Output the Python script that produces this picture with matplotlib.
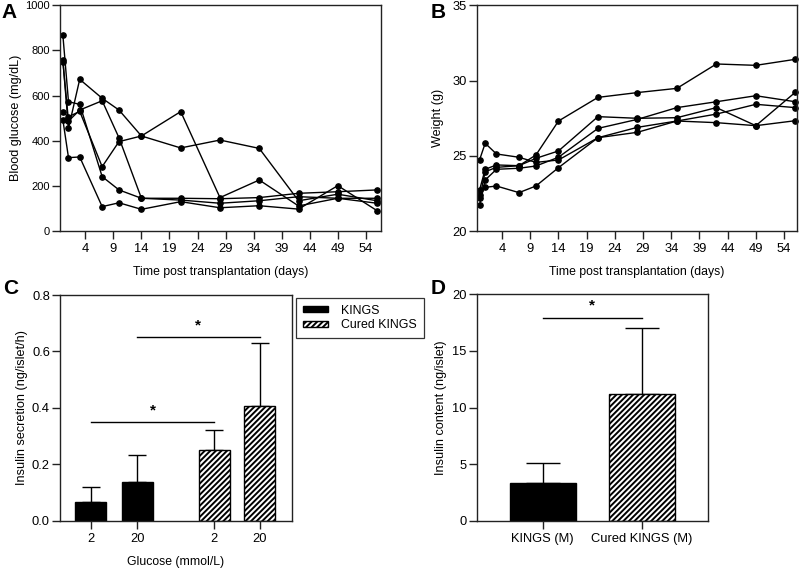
import matplotlib
matplotlib.use("Agg")
import matplotlib.pyplot as plt
from matplotlib.patches import Patch
import numpy as np

plt.rcParams['font.family'] = ['Liberation Sans', 'DejaVu Sans']
plt.rcParams['hatch.linewidth'] = 1.4

# ---------------- data ----------------
days = [0, 1, 3, 7, 10, 14, 21, 28, 35, 42, 49, 56]

glucose_m1 = [867, 573, 561, 241, 182, 145, 145, 143, 148, 167, 174, 182]
glucose_m2 = [757, 455, 672, 588, 536, 421, 368, 403, 366, 134, 163, 134]
glucose_m3 = [750, 487, 536, 577, 413, 145, 137, 123, 134, 152, 145, 145]
glucose_m4 = [526, 506, 530, 285, 396, 421, 529, 148, 226, 111, 145, 123]
glucose_m5 = [492, 325, 328, 108, 125, 96, 130, 103, 112, 97, 201, 90]

weight_m1 = [24.72, 25.83, 25.12, 24.90, 24.56, 24.72, 26.20, 26.56, 27.31, 27.20, 27.00, 27.33]
weight_m2 = [22.72, 24.10, 24.39, 24.34, 25.05, 27.31, 28.88, 29.20, 29.48, 31.10, 31.01, 31.41]
weight_m3 = [22.17, 23.94, 24.23, 24.34, 24.83, 25.32, 27.60, 27.49, 27.53, 28.20, 27.00, 29.22]
weight_m4 = [21.73, 23.39, 24.10, 24.17, 24.32, 24.90, 26.82, 27.42, 28.20, 28.59, 28.99, 28.59]
weight_m5 = [22.39, 22.90, 22.99, 22.55, 22.99, 24.21, 26.20, 26.89, 27.31, 27.77, 28.42, 28.20]

day_ticks = [4, 9, 14, 19, 24, 29, 34, 39, 44, 49, 54]

secretion_labels = ['2', '20', '2', '20']
secretion_groups = ['KINGS', 'KINGS', 'Cured KINGS', 'Cured KINGS']
secretion_mean = [0.066, 0.137, 0.251, 0.407]
secretion_err = [0.055, 0.097, 0.072, 0.222]

content_labels = ['KINGS (M)', 'Cured KINGS (M)']
content_mean = [3.30, 11.16]
content_err = [1.80, 5.89]

# ---------------- figure ----------------
W, H = 799, 569
fig = plt.figure(figsize=(W / 100, H / 100), dpi=100)

HATCH = '//////'


def px_axes(left, top, right, bottom):
    return fig.add_axes([left / W, 1 - bottom / H, (right - left) / W, (bottom - top) / H])


def style(ax, ysize=9.3, xsize=9.3):
    for s in ax.spines.values():
        s.set_linewidth(1.0)
        s.set_color('#222222')
    ax.tick_params(axis='both', direction='out', length=5.5, width=1.0, color='#222222')
    ax.tick_params(axis='y', labelsize=ysize, pad=2)
    ax.tick_params(axis='x', labelsize=xsize, pad=3)


line_kw = dict(color='black', lw=1.0, marker='o', ms=3.8, clip_on=False)
LABEL = 8.8
YLABEL = 9.1

# Panel A
axA = px_axes(60.3, 5.3, 381, 231)
for g in [glucose_m1, glucose_m2, glucose_m3, glucose_m4, glucose_m5]:
    axA.plot(days, g, **line_kw)
axA.set_xlim(-0.46, 56.7)
axA.set_ylim(0, 1000)
axA.set_xticks(day_ticks)
axA.set_yticks([0, 200, 400, 600, 800, 1000])
style(axA, ysize=8.0)
axA.set_xlabel('Time post transplantation (days)', fontsize=LABEL, labelpad=8)
axA.set_ylabel('Blood glucose (mg/dL)', fontsize=YLABEL, labelpad=2)

# Panel B
axB = px_axes(477, 5.3, 797, 231)
for w in [weight_m1, weight_m2, weight_m3, weight_m4, weight_m5]:
    axB.plot(days, w, **line_kw)
axB.set_xlim(-0.45, 56.3)
axB.set_ylim(20, 35)
axB.set_xticks(day_ticks)
axB.set_yticks([20, 25, 30, 35])
style(axB)
axB.set_xlabel('Time post transplantation (days)', fontsize=LABEL, labelpad=8)
axB.set_ylabel('Weight (g)', fontsize=YLABEL, labelpad=6)

# Panel C
axC = px_axes(60.3, 295, 291.7, 520.7)
xc = [0, 1, 2.67, 3.65]
for i in range(4):
    cured = secretion_groups[i] == 'Cured KINGS'
    axC.bar(xc[i], secretion_mean[i], width=0.67,
            color='white' if cured else 'black', edgecolor='black', lw=1.0,
            hatch=HATCH if cured else None, zorder=2)
    axC.errorbar(xc[i], secretion_mean[i], yerr=[[0], [secretion_err[i]]], fmt='none',
                 ecolor='black', elinewidth=1.0, capsize=6.5, capthick=1.0, zorder=1)
axC.set_xlim(-0.66, 4.34)
axC.set_ylim(0, 0.8)
axC.set_xticks(xc)
axC.set_xticklabels(secretion_labels)
axC.set_yticks([0.0, 0.2, 0.4, 0.6, 0.8])
axC.set_yticklabels(['0.0', '0.2', '0.4', '0.6', '0.8'])
style(axC)
axC.set_xlabel('Glucose (mmol/L)', fontsize=LABEL, labelpad=8)
axC.set_ylabel('Insulin secretion (ng/islet/h)', fontsize=YLABEL, labelpad=3)
axC.plot([xc[0], xc[2]], [0.351, 0.351], color='black', lw=1.0)
axC.text((xc[0] + xc[2]) / 2, 0.39, '*', ha='center', va='center', fontsize=11, fontweight='bold')
axC.plot([xc[1], xc[3]], [0.652, 0.652], color='black', lw=1.0)
axC.text((xc[1] + xc[3]) / 2, 0.692, '*', ha='center', va='center', fontsize=11, fontweight='bold')

handles = [Patch(facecolor='black', edgecolor='black'),
           Patch(facecolor='white', edgecolor='black', hatch=HATCH)]
leg = fig.legend(handles, ['KINGS', 'Cured KINGS'], loc='upper left',
                 bbox_to_anchor=(296 / W, 1 - 298 / H), borderaxespad=0, fontsize=8.9,
                 frameon=True, fancybox=False, edgecolor='black', handlelength=2.0,
                 handleheight=0.35, borderpad=0.55, labelspacing=0.2, handletextpad=1.1)
leg.get_frame().set_linewidth(0.9)

# Panel D
axD = px_axes(477, 294.3, 708, 520.7)
xd = [0, 1]
for i in range(2):
    cured = i == 1
    axD.bar(xd[i], content_mean[i], width=0.665,
            color='white' if cured else 'black', edgecolor='black', lw=1.0,
            hatch=HATCH if cured else None, zorder=2)
    axD.errorbar(xd[i], content_mean[i], yerr=[[0], [content_err[i]]], fmt='none',
                 ecolor='black', elinewidth=1.0, capsize=12.5, capthick=1.0, zorder=1)
axD.set_xlim(-0.664, 1.67)
axD.set_ylim(0, 20)
axD.set_xticks(xd)
axD.set_xticklabels(content_labels)
axD.set_yticks([0, 5, 10, 15, 20])
style(axD)
axD.set_ylabel('Insulin content (ng/islet)', fontsize=YLABEL, labelpad=4)
axD.plot([0, 1], [17.94, 17.94], color='black', lw=1.0)
axD.text(0.5, 19.0, '*', ha='center', va='center', fontsize=11, fontweight='bold')

# Panel letters
for lab, x, y in [('A', 9.5, 13), ('B', 438.5, 13), ('C', 11, 289), ('D', 438.5, 289)]:
    fig.text(x / W, 1 - y / H, lab, fontsize=15, fontweight='bold', ha='center', va='center')

fig.savefig('out.png', dpi=100)
